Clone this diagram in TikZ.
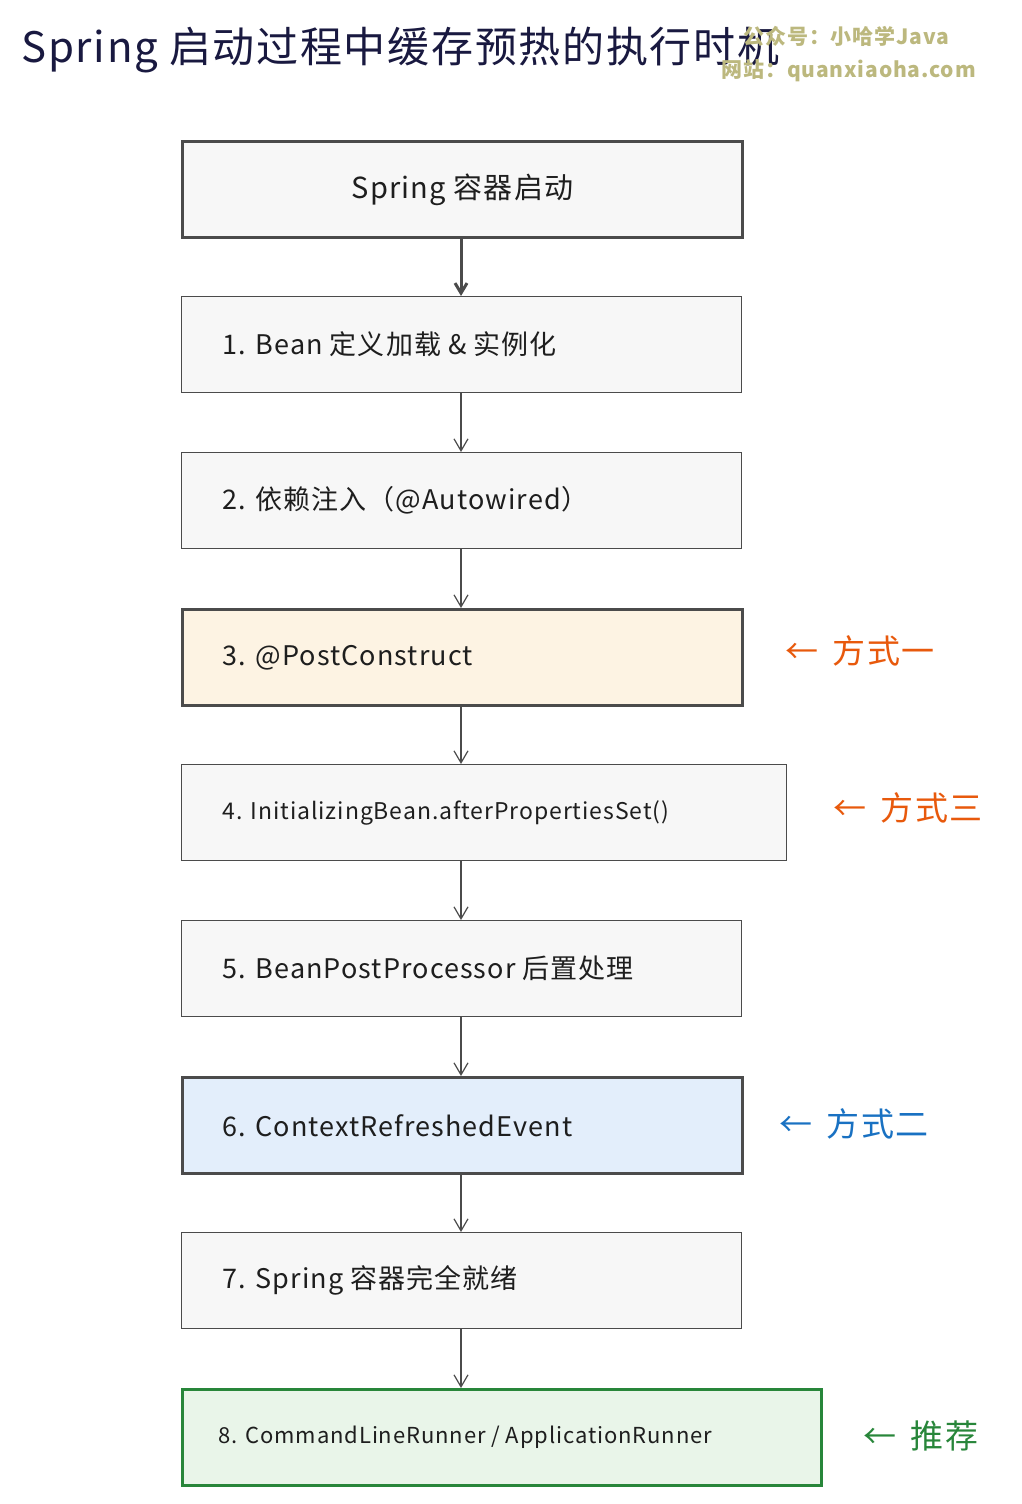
\documentclass[tikz,border=0pt]{standalone}
\usepackage{fontspec}
\setmainfont{Noto Sans CJK SC}[LetterSpace=4]
\usetikzlibrary{arrows.meta}
\definecolor{ink}{HTML}{1E1E1E}
\definecolor{orng}{HTML}{E8590C}
\definecolor{blu}{HTML}{1971C2}
\definecolor{grn}{HTML}{2F9E44}
\definecolor{bfill}{HTML}{E3EEFB}
\definecolor{ofill}{HTML}{FDF3E3}
\definecolor{gfill}{HTML}{E9F5E9}
\begin{document}
\begin{tikzpicture}[x=1pt,y=-1pt,
  box/.style={draw=ink!80,line width=1.3pt,fill=gray!6,anchor=north west,inner sep=0pt},
  heavy/.style={line width=3pt},
  txt/.style={anchor=west,font=\fontsize{27}{30}\selectfont,text=ink},
  side/.style={anchor=west,font=\fontsize{33}{36}\selectfont},
  arr/.style={draw=ink!80,line width=1.2pt,-{Straight Barb[length=12pt,width=14pt]}},
  arrh/.style={draw=ink!80,line width=3pt,-{Straight Barb[length=10pt,width=12pt]}}]
\useasboundingbox[fill=white] (0,0) rectangle (1022,1504);
\node[anchor=west,font=\fontsize{42}{44}\selectfont,text=ink!85!blue] (title) at (18,50) {Spring 启动过程中缓存预热的执行时机};
\node[anchor=west,font=\fontsize{21}{22}\selectfont\bfseries,text=gray!45!olive!60] (wm1) at (740,36) {公众号：小哈学Java};
\node[anchor=west,font=\fontsize{21}{22}\selectfont\bfseries,text=gray!45!olive!60] (wm2) at (718,71) {网站：quanxiaoha.com};
\def\bx#1#2#3#4{\node[box,#4,minimum width=#3pt,minimum height=96pt] (#1) at (181,#2) {};}
\bx{b0}{140}{560}{heavy}
\bx{b1}{296}{560}{}
\bx{b2}{452}{560}{}
\bx{b3}{608}{560}{heavy,fill=ofill}
\bx{b4}{764}{605}{}
\bx{b5}{920}{560}{}
\bx{b6}{1076}{560}{heavy,fill=bfill}
\bx{b7}{1232}{560}{}
\bx{b8}{1388}{639}{heavy,draw=grn!85!black,fill=gfill}
\node[font=\fontsize{29}{32}\selectfont,text=ink] (t0) at (b0.center) {Spring 容器启动};
\node[txt] (t1) at ([xshift=38pt]b1.west) {1. Bean 定义加载 \& 实例化};
\node[txt] (t2) at ([xshift=38pt]b2.west) {2. 依赖注入（@Autowired）};
\node[txt] (t3) at ([xshift=38pt]b3.west) {3. @PostConstruct};
\node[txt,font=\fontsize{23}{26}\selectfont] (t4) at ([xshift=38pt]b4.west) {4. InitializingBean.afterPropertiesSet()};
\node[txt] (t5) at ([xshift=38pt]b5.west) {5. BeanPostProcessor 后置处理};
\node[txt] (t6) at ([xshift=38pt]b6.west) {6. ContextRefreshedEvent};
\node[txt] (t7) at ([xshift=38pt]b7.west) {7. Spring 容器完全就绪};
\node[txt,font=\fontsize{22}{24}\selectfont] (t8) at ([xshift=34pt]b8.west) {8. CommandLineRunner / ApplicationRunner};
\draw[arrh] (b0.south -| 461,0) -- (b1.north -| 461,0);
\foreach \a/\b in {b1/b2,b2/b3,b3/b4,b4/b5,b5/b6,b6/b7,b7/b8}
  \draw[arr] (\a.south -| 461,0) -- (\b.north -| 461,0);
\node[side,text=orng] (s1) at (782,651) {←\, 方式一};
\node[side,text=orng] (s3) at (830,808) {←\, 方式三};
\node[side,text=blu] (s2) at (776,1124) {←\, 方式二};
\node[side,text=grn!85!black] (s4) at (860,1436) {←\, 推荐};
\end{tikzpicture}
\end{document}
